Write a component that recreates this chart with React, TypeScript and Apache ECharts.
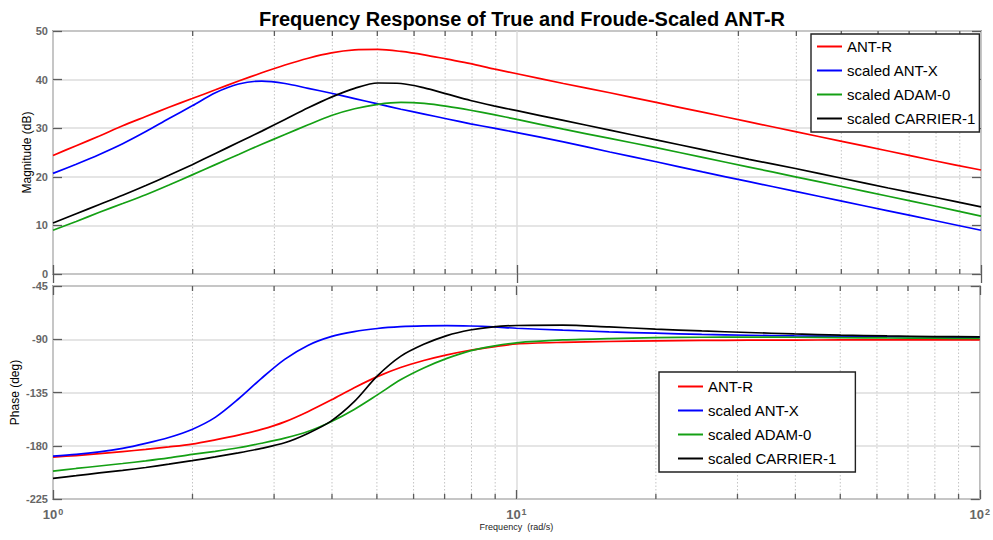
import React, { useEffect, useRef } from "react";
import * as echarts from "echarts";

const TITLE = "Frequency Response of True and Froude-Scaled ANT-R";
const SERIES_NAMES = ["ANT-R", "scaled ANT-X", "scaled ADAM-0", "scaled CARRIER-1"];
const SERIES_COLORS = ["#ff0000", "#0000ff", "#14a014", "#000000"];

const FREQ = [1, 1.122, 1.259, 1.413, 1.585, 1.778, 1.995, 2.239, 2.512, 2.818, 3.162, 3.548, 3.981, 4.467, 5.012, 5.623, 6.31, 7.079, 7.943, 8.913, 10, 12.59, 15.85, 19.95, 25.12, 31.62, 39.81, 50.12, 63.1, 79.43, 100];

const MAG_ANT_R = [24.4, 26.4, 28.4, 30.5, 32.4, 34.3, 36.1, 37.9, 39.7, 41.4, 43.0, 44.4, 45.5, 46.1, 46.2, 45.8, 45.1, 44.2, 43.3, 42.2, 41.2, 39.2, 37.3, 35.3, 33.3, 31.3, 29.3, 27.3, 25.3, 23.3, 21.4];
const MAG_ANT_X = [20.7, 22.6, 24.6, 26.8, 29.3, 32.0, 34.6, 37.3, 39.1, 39.7, 39.2, 38.2, 37.2, 36.1, 35.0, 33.9, 32.9, 31.9, 30.9, 30.0, 29.1, 27.2, 25.1, 23.1, 21.0, 19.0, 17.0, 15.0, 13.0, 11.0, 9.0];
const MAG_ADAM_0 = [9.0, 10.8, 12.7, 14.5, 16.3, 18.3, 20.4, 22.5, 24.6, 26.7, 28.7, 30.7, 32.6, 34.0, 34.9, 35.3, 35.1, 34.5, 33.7, 32.8, 31.8, 29.8, 27.9, 26.0, 24.0, 22.0, 20.0, 18.0, 16.0, 14.0, 11.9];
const MAG_CARRIER_1 = [10.5, 12.4, 14.3, 16.2, 18.2, 20.3, 22.5, 24.8, 27.1, 29.4, 31.8, 34.2, 36.4, 38.2, 39.3, 39.2, 38.3, 37.0, 35.7, 34.6, 33.6, 31.6, 29.6, 27.6, 25.6, 23.6, 21.7, 19.7, 17.7, 15.8, 13.8];

const PH_ANT_R = [-189.6, -188.3, -186.7, -184.9, -183.1, -181.0, -178.6, -175.0, -171.0, -166.2, -159.8, -151.2, -141.4, -131.0, -121.6, -113.9, -108.0, -103.2, -99.3, -96.4, -94.0, -92.6, -91.9, -91.4, -91.0, -90.8, -90.7, -90.6, -90.6, -90.6, -90.6];
const PH_ANT_X = [-188.7, -187.3, -185.2, -182.2, -178.0, -173.0, -166.2, -156.0, -140.5, -123.0, -107.0, -95.2, -87.8, -83.5, -80.9, -79.4, -78.7, -78.5, -78.8, -79.5, -80.7, -82.3, -83.7, -84.9, -85.9, -86.6, -87.2, -87.6, -87.9, -88.1, -88.2];
const PH_ADAM_0 = [-201.4, -199.2, -197.1, -195.0, -192.8, -190.3, -187.3, -184.7, -181.7, -177.9, -173.6, -168.0, -159.7, -149.3, -137.0, -124.3, -114.3, -106.2, -99.8, -95.8, -93.0, -90.6, -89.4, -88.7, -88.3, -88.1, -88.3, -88.6, -88.9, -89.1, -89.3];
const PH_CARRIER_1 = [-207.6, -205.3, -203.0, -200.8, -198.4, -195.6, -192.6, -189.4, -186.0, -182.2, -177.5, -169.6, -159.2, -142.8, -121.0, -104.5, -94.3, -86.9, -82.2, -79.5, -78.4, -78.1, -79.6, -81.4, -83.0, -84.3, -85.5, -86.5, -87.2, -87.7, -88.0];

const MAG_SERIES = [MAG_ANT_R, MAG_ANT_X, MAG_ADAM_0, MAG_CARRIER_1];
const PH_SERIES = [PH_ANT_R, PH_ANT_X, PH_ADAM_0, PH_CARRIER_1];

const FREQ_MIN = 1;
const FREQ_MAX = 100;
const MAG_MIN = 0;
const MAG_MAX = 50;
const MAG_STEP = 10;
const PH_MIN = -225;
const PH_MAX = -45;
const PH_STEP = 45;
const MINOR_FREQS = [2, 3, 4, 5, 6, 7, 8, 9, 20, 30, 40, 50, 60, 70, 80, 90];

const FONT = "'Liberation Sans', Arial, Helvetica, sans-serif";
const FRAME = "#5c5c5c";
const TICK_LABEL = { color: "#666", fontSize: 11, fontWeight: "bold" as const, fontFamily: FONT };

function minorRender(yMin: number, yMax: number) {
  return (params: any, api: any) => {
    const x = api.value(0);
    const top = api.coord([x, yMax]);
    const bot = api.coord([x, yMin]);
    return {
      type: "group",
      children: [
        {
          type: "line",
          shape: { x1: top[0], y1: top[1], x2: bot[0], y2: bot[1] },
          style: { stroke: "#c4c4c4", lineWidth: 1, lineDash: [1.5, 2] },
        },
        {
          type: "line",
          shape: { x1: bot[0], y1: bot[1], x2: bot[0], y2: bot[1] - 5 },
          style: { stroke: FRAME, lineWidth: 1.3 },
        },
        {
          type: "line",
          shape: { x1: top[0], y1: top[1], x2: top[0], y2: top[1] + 5 },
          style: { stroke: FRAME, lineWidth: 1.3 },
        },
      ],
    };
  };
}

function makeX(gridIndex: number, position: string, showLabels: boolean, split: boolean): any {
  return {
    gridIndex,
    type: "log",
    logBase: 10,
    min: FREQ_MIN,
    max: FREQ_MAX,
    position,
    axisLine: { show: false },
    axisTick: { show: true, inside: true, length: 9, lineStyle: { color: FRAME, width: 1.3 } },
    axisLabel: showLabels
      ? {
          show: true,
          margin: 8,
          formatter: (v: number) => `{b|10}{s|${Math.round(Math.log10(v))}}`,
          rich: {
            b: { ...TICK_LABEL, fontSize: 13 },
            s: { ...TICK_LABEL, fontSize: 9, verticalAlign: "top", padding: [0, 0, 6, 1] },
          },
        }
      : { show: false },
    splitLine: split ? { show: true, lineStyle: { color: "#dcdcdc", width: 1.5 } } : { show: false },
  };
}

function makeY(gridIndex: number, position: string, min: number, max: number, step: number, main: boolean): any {
  return {
    gridIndex,
    type: "value",
    min,
    max,
    interval: step,
    position,
    axisLine: { show: false },
    axisTick: { show: true, inside: true, length: 9, lineStyle: { color: FRAME, width: 1.3 } },
    axisLabel: main ? { show: true, margin: 5, ...TICK_LABEL } : { show: false },
    splitLine: main ? { show: true, lineStyle: { color: "#dcdcdc", width: 1.5 } } : { show: false },
  };
}

export default function App() {
  const ref = useRef<HTMLDivElement>(null);

  useEffect(() => {
    if (!ref.current) return;
    const chart = echarts.init(ref.current, undefined, { renderer: "svg" });

    const lineSeries: any[] = [];
    SERIES_NAMES.forEach((name, i) => {
      lineSeries.push({
        name,
        type: "line",
        xAxisIndex: 0,
        yAxisIndex: 0,
        data: FREQ.map((f, k) => [f, MAG_SERIES[i][k]]),
        showSymbol: false,
        symbol: "none",
        smooth: 0.3,
        color: SERIES_COLORS[i],
        lineStyle: { color: SERIES_COLORS[i], width: 1.7 },
        z: 5,
      });
      lineSeries.push({
        name,
        type: "line",
        xAxisIndex: 2,
        yAxisIndex: 2,
        data: FREQ.map((f, k) => [f, PH_SERIES[i][k]]),
        showSymbol: false,
        symbol: "none",
        smooth: 0.3,
        color: SERIES_COLORS[i],
        lineStyle: { color: SERIES_COLORS[i], width: 1.7 },
        z: 5,
      });
    });

    const legendBase = {
      orient: "vertical",
      data: SERIES_NAMES,
      icon: "rect",
      itemWidth: 25,
      itemHeight: 2,
      itemGap: 9,
      itemTextGap: 3,
      borderColor: "#222",
      borderWidth: 1.4,
      backgroundColor: "#fff",
      selectedMode: false,
      textStyle: { fontSize: 15, lineHeight: 15, color: "#000", fontFamily: FONT },
      z: 10,
    };

    const nameStyle = { fontSize: 12, color: "#000", fontFamily: FONT };

    chart.setOption({
      animation: false,
      backgroundColor: "#fff",
      textStyle: { fontFamily: FONT },
      title: {
        text: TITLE,
        left: 517,
        top: 4,
        textAlign: "center",
        textStyle: { fontSize: 20, fontWeight: "bold", color: "#000", fontFamily: FONT },
      },
      legend: [
        { ...legendBase, left: 811, top: 34, padding: [5, 4, 6, 6] },
        { ...legendBase, left: 659, top: 372, padding: [7, 19, 6, 19] },
      ],
      grid: [
        { left: 53, top: 31, width: 928, height: 243, show: true, borderColor: FRAME, borderWidth: 1.5, backgroundColor: "#fff" },
        { left: 53, top: 286, width: 928, height: 213, show: true, borderColor: FRAME, borderWidth: 1.5, backgroundColor: "#fff" },
      ],
      xAxis: [
        makeX(0, "bottom", false, true),
        makeX(0, "top", false, false),
        {
          ...makeX(1, "bottom", true, true),
          name: "Frequency  (rad/s)",
          nameLocation: "middle",
          nameGap: 23,
          nameMoveOverlap: false,
          nameTextStyle: { fontSize: 9, color: "#222", fontFamily: FONT },
        },
        makeX(1, "top", false, false),
      ],
      yAxis: [
        {
          ...makeY(0, "left", MAG_MIN, MAG_MAX, MAG_STEP, true),
          name: "Magnitude (dB)",
          nameLocation: "middle",
          nameGap: 20,
          nameMoveOverlap: false,
          nameTextStyle: nameStyle,
        },
        makeY(0, "right", MAG_MIN, MAG_MAX, MAG_STEP, false),
        {
          ...makeY(1, "left", PH_MIN, PH_MAX, PH_STEP, true),
          name: "Phase (deg)",
          nameLocation: "middle",
          nameGap: 32,
          nameMoveOverlap: false,
          nameTextStyle: nameStyle,
        },
        makeY(1, "right", PH_MIN, PH_MAX, PH_STEP, false),
      ],
      series: [
        {
          type: "custom",
          xAxisIndex: 0,
          yAxisIndex: 0,
          data: MINOR_FREQS.map((f) => [f, MAG_MIN]),
          encode: { x: 0, y: 1 },
          renderItem: minorRender(MAG_MIN, MAG_MAX),
          silent: true,
          z: 1,
        },
        {
          type: "custom",
          xAxisIndex: 2,
          yAxisIndex: 2,
          data: MINOR_FREQS.map((f) => [f, PH_MIN]),
          encode: { x: 0, y: 1 },
          renderItem: minorRender(PH_MIN, PH_MAX),
          silent: true,
          z: 1,
        },
        ...lineSeries,
      ],
    });

    return () => chart.dispose();
  }, []);

  return (
    <div
      ref={ref}
      style={{ position: "fixed", left: 0, top: 0, width: 993, height: 540, background: "#fff" }}
    />
  );
}
